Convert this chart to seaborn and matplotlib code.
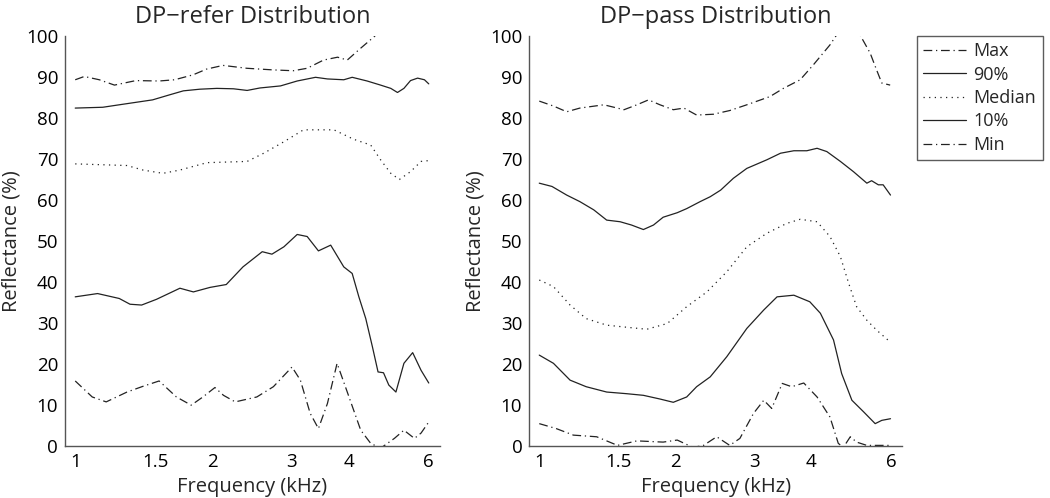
import pandas as pd
import numpy as np
import matplotlib
matplotlib.use('Agg')
import matplotlib.pyplot as plt
import seaborn as sns
from matplotlib.ticker import FixedLocator, FixedFormatter, NullLocator

sns.set_style('white')
plt.rcParams['font.family'] = ['Open Sans', 'DejaVu Sans']

# --- DP-refer ---
refer_max_f = [1.0, 1.047, 1.13, 1.22, 1.36, 1.53, 1.655, 1.817, 1.946, 2.115, 2.386, 2.73, 3.02, 3.24,
               3.52, 3.78, 3.97, 4.25, 4.55, 4.75, 5.0, 5.25, 5.5, 5.8, 6.0]
refer_max_v = [89.3, 90.1, 89.3, 88.0, 89.1, 89.0, 89.3, 90.5, 91.9, 92.8, 92.1, 91.7, 91.5, 92.1,
               94.1, 94.8, 94.1, 97.0, 99.8, 102.0, 103.0, 100.2, 101.0, 102.0, 103.0]

refer_p90_f = [1.0, 1.15, 1.25, 1.36, 1.48, 1.61, 1.73, 1.88, 2.05, 2.23, 2.39, 2.55, 2.83, 3.08, 3.38,
               3.59, 3.9, 4.07, 4.39, 4.7, 4.95, 5.12, 5.29, 5.47, 5.67, 5.87, 6.0]
refer_p90_v = [82.4, 82.6, 83.2, 83.8, 84.4, 85.6, 86.6, 87.0, 87.2, 87.1, 86.7, 87.3, 87.8, 89.0, 89.9,
               89.5, 89.3, 89.9, 89.0, 88.0, 87.2, 86.2, 87.2, 89.1, 89.7, 89.3, 88.3]

refer_med_f = [1.0, 1.3, 1.41, 1.56, 1.7, 1.95, 2.39, 2.6, 2.88, 3.18, 3.71, 4.1, 4.47, 4.7, 4.95,
               5.17, 5.47, 5.77, 6.0]
refer_med_v = [68.8, 68.4, 67.3, 66.5, 67.3, 69.1, 69.4, 71.4, 74.2, 77.1, 77.1, 74.8, 73.4, 69.8, 66.5,
               65.0, 66.9, 69.4, 69.6]

refer_p10_f = [1.0, 1.12, 1.25, 1.32, 1.4, 1.51, 1.7, 1.82, 1.98, 2.15, 2.34, 2.58, 2.71, 2.88, 3.08,
               3.24, 3.43, 3.65, 3.9, 4.07, 4.21, 4.36, 4.51, 4.64, 4.77, 4.9, 5.08, 5.29, 5.53, 5.77, 6.0]
refer_p10_v = [36.4, 37.2, 36.0, 34.6, 34.4, 35.8, 38.5, 37.6, 38.7, 39.4, 43.7, 47.4, 46.8, 48.6, 51.6,
               51.1, 47.6, 49.0, 43.7, 42.1, 36.4, 31.1, 24.2, 18.1, 17.9, 14.9, 13.2, 20.2, 22.8, 18.5, 15.4]

refer_min_f = [1.0, 1.09, 1.17, 1.3, 1.41, 1.53, 1.67, 1.8, 1.91, 2.03, 2.12, 2.25, 2.51, 2.73, 3.0,
               3.13, 3.29, 3.43, 3.59, 3.77, 3.97, 4.25, 4.47, 4.7, 5.04, 5.29, 5.58, 5.77, 6.0]
refer_min_v = [15.9, 12.0, 10.8, 13.2, 14.6, 15.9, 12.0, 10.0, 12.0, 14.3, 12.4, 10.8, 12.0, 14.5, 19.3,
               16.1, 8.0, 4.3, 10.4, 20.2, 13.2, 3.9, 0.7, -0.5, 1.9, 3.9, 1.9, 3.2, 5.9]

# --- DP-pass ---
pass_max_f = [1.0, 1.075, 1.15, 1.23, 1.39, 1.54, 1.645, 1.745, 1.85, 1.98, 2.09, 2.23, 2.43, 2.64,
              2.88, 3.24, 3.47, 3.78, 4.04, 4.4, 4.55, 4.8, 5.13, 5.4, 5.58, 5.73, 5.98]
pass_max_v = [84.1, 82.9, 81.5, 82.4, 83.2, 82.0, 83.2, 84.4, 83.2, 82.0, 82.4, 80.7, 80.9, 81.8,
              83.2, 85.2, 87.2, 89.3, 92.9, 97.8, 100.2, 102.0, 100.2, 95.8, 91.7, 88.5, 88.0]

pass_p90_f = [1.0, 1.067, 1.15, 1.23, 1.32, 1.41, 1.51, 1.6, 1.7, 1.79, 1.88, 2.02, 2.12, 2.27, 2.39,
              2.52, 2.69, 2.88, 3.19, 3.42, 3.66, 3.91, 4.12, 4.33, 4.64, 4.96, 5.31, 5.44, 5.63, 5.77, 5.99]
pass_p90_v = [64.1, 63.3, 61.2, 59.6, 57.6, 55.1, 54.7, 53.9, 52.8, 53.9, 55.8, 56.9, 57.9, 59.6, 60.8,
              62.4, 65.3, 67.7, 69.8, 71.4, 72.0, 72.0, 72.6, 71.8, 69.4, 66.9, 64.1, 64.7, 63.7, 63.7, 61.2]

pass_med_f = [1.0, 1.075, 1.17, 1.27, 1.41, 1.59, 1.73, 1.92, 2.12, 2.35, 2.6, 2.88, 3.19, 3.53, 3.78,
              4.12, 4.4, 4.64, 4.84, 5.04, 5.31, 5.58, 5.98]
pass_med_v = [40.5, 38.9, 34.4, 31.1, 29.5, 28.9, 28.5, 29.9, 34.0, 37.6, 42.5, 48.6, 51.9, 54.3, 55.3,
              54.7, 51.1, 46.2, 39.7, 34.0, 30.7, 28.3, 25.4]

pass_p10_f = [1.0, 1.075, 1.17, 1.27, 1.41, 1.56, 1.7, 1.85, 1.98, 2.12, 2.23, 2.39, 2.6, 2.88, 3.14,
              3.36, 3.66, 3.97, 4.19, 4.48, 4.67, 4.92, 5.22, 5.54, 5.73, 5.99]
pass_p10_v = [22.2, 20.2, 16.1, 14.5, 13.2, 12.8, 12.4, 11.5, 10.7, 12.0, 14.5, 16.9, 21.8, 28.7, 33.2,
              36.4, 36.8, 35.2, 32.4, 25.9, 17.7, 11.2, 8.4, 5.5, 6.3, 6.7]

pass_min_f = [1.0, 1.09, 1.19, 1.34, 1.49, 1.645, 1.88, 2.02, 2.19, 2.31, 2.47, 2.64, 2.78, 2.98, 3.14,
              3.27, 3.45, 3.62, 3.85, 4.12, 4.4, 4.59, 4.71, 4.88, 5.04, 5.31, 5.99]
pass_min_v = [5.5, 4.3, 2.7, 2.3, 0.2, 1.3, 1.0, 1.5, -0.3, 0.2, 2.3, 0.2, 1.9, 8.0, 11.2,
              9.2, 15.3, 14.5, 15.4, 12.0, 7.1, 0.7, -0.3, 2.3, 1.0, 0.2, 0.2]

stats = ['Max', '90%', 'Median', '10%', 'Min']
panels = {
    'DP\u2212refer Distribution': [(refer_max_f, refer_max_v), (refer_p90_f, refer_p90_v),
                                   (refer_med_f, refer_med_v), (refer_p10_f, refer_p10_v),
                                   (refer_min_f, refer_min_v)],
    'DP\u2212pass Distribution': [(pass_max_f, pass_max_v), (pass_p90_f, pass_p90_v),
                                  (pass_med_f, pass_med_v), (pass_p10_f, pass_p10_v),
                                  (pass_min_f, pass_min_v)],
}

dashes = {'Max': (7, 3, 1, 3), '90%': '', 'Median': (1, 3.5), '10%': '', 'Min': (7, 3, 1, 3)}

fig = plt.figure(figsize=(10.5, 4.98), dpi=100)
axes = [fig.add_axes([0.062, 0.104, 0.357, 0.824]),
        fig.add_axes([0.504, 0.104, 0.355, 0.824])]

for ax, (titulo, curvas) in zip(axes, panels.items()):
    linhas = []
    for nome, (f, v) in zip(stats, curvas):
        linhas.append(pd.DataFrame({'Frequencia': f, 'Reflectancia': v, 'Estatistica': nome}))
    df = pd.concat(linhas, ignore_index=True)
    sns.lineplot(data=df, x='Frequencia', y='Reflectancia', style='Estatistica', style_order=stats,
                 dashes=dashes, color='#222222', linewidth=0.9, estimator=None, sort=False,
                 legend=(ax is axes[1]), ax=ax)
    ax.set_xscale('log')
    ax.set_xlim(0.95, 6.35)
    ax.set_ylim(0, 100)
    ax.xaxis.set_major_locator(FixedLocator([1, 1.5, 2, 3, 4, 6]))
    ax.xaxis.set_major_formatter(FixedFormatter(['1', '1.5', '2', '3', '4', '6']))
    ax.xaxis.set_minor_locator(NullLocator())
    ax.set_yticks(range(0, 101, 10))
    ax.tick_params(direction='in', length=4, labelsize=13.5, colors='black', width=0.8, pad=5)
    ax.set_title(titulo, fontsize=17, pad=9)
    ax.set_xlabel('Frequency (kHz)', fontsize=14.5, labelpad=4)
    ax.set_ylabel('Reflectance (%)', fontsize=14.5, labelpad=3)
    for lado in ['top', 'right']:
        ax.spines[lado].set_visible(False)
    for lado in ['left', 'bottom']:
        ax.spines[lado].set_color('#555555')
        ax.spines[lado].set_linewidth(1.0)

leg_ax = axes[1]
handles, labels = leg_ax.get_legend_handles_labels()
leg_ax.get_legend().remove()
fig.legend(handles, labels, loc='upper left', bbox_to_anchor=(0.873, 0.928), fontsize=13,
           frameon=True, fancybox=False, edgecolor='#333333', handlelength=2.4,
           borderpad=0.35, labelspacing=0.3, handletextpad=0.4, borderaxespad=0)

plt.savefig('out.png', dpi=100)
